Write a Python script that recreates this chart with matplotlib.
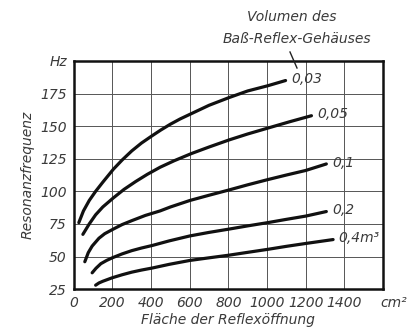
import matplotlib
matplotlib.use('Agg')
import matplotlib.pyplot as plt
import numpy as np

# Fläche der Reflexöffnung (cm^2) und Resonanzfrequenz (Hz)
x_003 = [26, 50, 80, 113, 150, 205, 250, 300, 350, 404, 450, 500, 550, 607, 700, 805, 900, 1004, 1096]
f_003 = [76, 85, 93, 100, 107, 117, 124, 131, 137, 142.5, 147, 151.5, 155.5, 159.5, 166, 172, 177, 181, 185]

x_005 = [47, 80, 113, 150, 205, 260, 320, 380, 447, 520, 609, 700, 805, 900, 1004, 1120, 1230]
f_005 = [67, 75, 82, 88, 95, 101.5, 107.5, 113, 118.5, 123.5, 129, 134, 139.5, 144, 148.5, 153.5, 158]

x_01 = [57, 75, 95, 130, 160, 204, 250, 300, 370, 447, 500, 601, 700, 802, 900, 1004, 1100, 1200, 1307]
f_01 = [46, 53, 58, 64, 67.5, 71, 74.5, 77.5, 81.5, 85, 88, 93, 97, 101, 105, 109, 112.5, 116, 121]

x_02 = [95, 115, 140, 170, 199, 250, 300, 350, 407, 494, 601, 700, 802, 900, 1004, 1100, 1200, 1307]
f_02 = [37.5, 41, 44.5, 47, 49, 52, 54.5, 56.5, 58.5, 62, 65.8, 68.5, 71, 73.5, 76, 78.5, 81, 84.5]

x_04 = [113, 130, 150, 199, 250, 300, 350, 407, 494, 601, 700, 802, 900, 1004, 1100, 1200, 1342]
f_04 = [28, 29.7, 31, 33.7, 36, 38, 39.6, 41.2, 44, 47, 49, 51, 53.2, 55.5, 57.8, 60, 63]

curves = [(x_003, f_003, '0,03'), (x_005, f_005, '0,05'), (x_01, f_01, '0,1'),
          (x_02, f_02, '0,2'), (x_04, f_04, '0,4m³')]

xticks = [0, 200, 400, 600, 800, 1000, 1200, 1400]
yticks = [25, 50, 75, 100, 125, 150, 175, 200]
ylabels = ['25', '50', '75', '100', '125', '150', '175', 'Hz']

fam = ['Liberation Sans Narrow', 'DejaVu Sans']
txt = '#3a3a3a'

fig = plt.figure(figsize=(4.1, 3.35), dpi=100)
ax = fig.add_axes([0.180, 0.137, 0.754, 0.681])
ax.set_xlim(0, 1600)
ax.set_ylim(25, 200)
ax.set_xticks(xticks + [1600])
ax.set_xticklabels([str(t) for t in xticks] + [''], family=fam, style='italic', fontsize=10, color=txt)
ax.set_yticks(yticks)
ax.set_yticklabels(ylabels, family=fam, style='italic', fontsize=10, color=txt)
ax.tick_params(length=0, pad=5)
ax.grid(True, color='#555555', lw=0.7)
for s in ax.spines.values():
	s.set_linewidth(1.8)
	s.set_color('#111111')

for xs, fs, lab in curves:
	ax.plot(xs, fs, color='#111111', lw=2.3, solid_capstyle='round', solid_joinstyle='round')
	ax.annotate(lab, (xs[-1], fs[-1]), xytext=(4, 1), textcoords='offset points',
		ha='left', va='center', family=fam, style='italic', fontsize=10, color=txt)

ax.annotate('cm²', (1.035, 0), xycoords='axes fraction', xytext=(0, -5), textcoords='offset points',
	ha='center', va='top', family=fam, style='italic', fontsize=10, color=txt)
ax.set_xlabel('Fläche der Reflexöffnung', family=fam, style='italic', fontsize=10, color=txt, labelpad=2)
ax.set_ylabel('Resonanzfrequenz', family=fam, style='italic', fontsize=10, color=txt, labelpad=4)

fig.text(292/410, 1-17/335, 'Volumen des', ha='center', va='center',
	family=fam, style='italic', fontsize=10, color=txt)
fig.text(297/410, 1-39/335, 'Baß-Reflex-Gehäuses', ha='center', va='center',
	family=fam, style='italic', fontsize=10, color=txt)
fig.add_artist(plt.Line2D([290/410, 297/410], [1-52/335, 1-68/335], color='#222222', lw=1.0))

fig.savefig('out.png', dpi=100)
